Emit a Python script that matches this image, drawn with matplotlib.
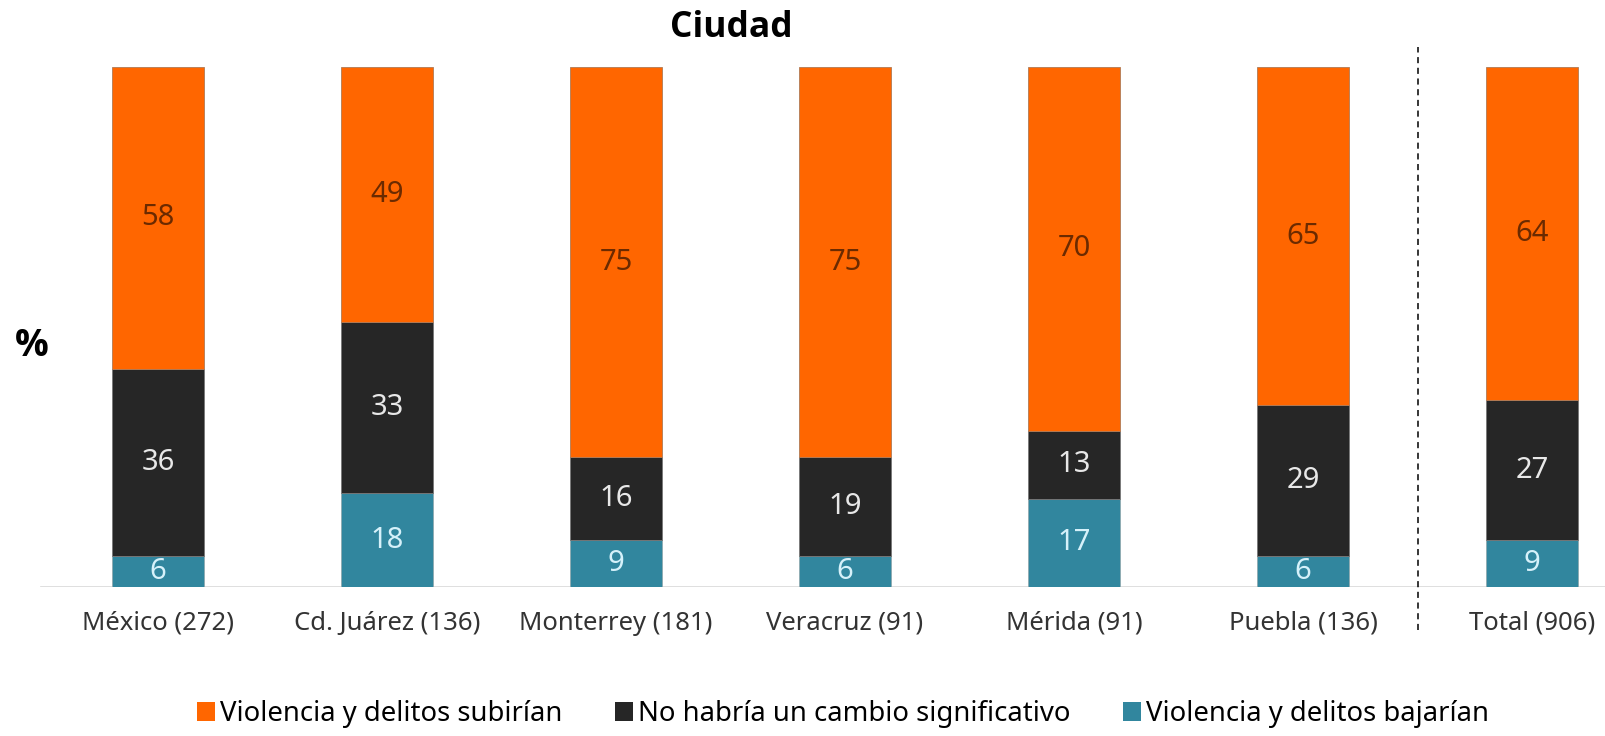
import matplotlib
matplotlib.use("Agg")
import matplotlib.pyplot as plt
from matplotlib.patches import Patch

categories = ["México (272)", "Cd. Juárez (136)", "Monterrey (181)", "Veracruz (91)",
              "Mérida (91)", "Puebla (136)", "Total (906)"]
bajarian = [6, 18, 9, 6, 17, 6, 9]
sin_cambio = [36, 33, 16, 19, 13, 29, 27]
subirian = [58, 49, 75, 75, 70, 65, 64]
series_names = ["Violencia y delitos subirían", "No habría un cambio significativo",
                "Violencia y delitos bajarían"]

c_up = "#FF6600"
c_mid = "#262626"
c_down = "#31869E"

W, H = 1606, 736
fig = plt.figure(figsize=(W / 100, H / 100), dpi=100)
ax = fig.add_axes([0, (H - 587) / H, 1, (587 - 67) / H])
ax.set_xlim((0 - 158) / 229, (W - 158) / 229)
ax.set_ylim(0, 100)

x = list(range(len(categories)))
bw = 0.405
fnt = "Noto Sans"
ax.bar(x, bajarian, bw, color=c_down, edgecolor="#8fa9b0", linewidth=0.6)
ax.bar(x, sin_cambio, bw, bottom=bajarian, color=c_mid, edgecolor="#777777", linewidth=0.6)
bot3 = [a + b for a, b in zip(bajarian, sin_cambio)]
ax.bar(x, subirian, bw, bottom=bot3, color=c_up, edgecolor="#b07a55", linewidth=0.6)

lbl_size = 21
for i in x:
    ax.text(i, bajarian[i] / 2, str(bajarian[i]), ha="center", va="center",
            color="#d6f1fa", fontsize=lbl_size, family=fnt)
    ax.text(i, bajarian[i] + sin_cambio[i] / 2, str(sin_cambio[i]), ha="center", va="center",
            color="#e8e8e8", fontsize=lbl_size, family=fnt)
    ax.text(i, bot3[i] + subirian[i] / 2, str(subirian[i]), ha="center", va="center",
            color="#6b2a00", fontsize=lbl_size, family=fnt)

for s in ax.spines.values():
    s.set_visible(False)
ax.set_yticks([])
ax.set_xticks(x)
ax.set_xticklabels(categories, fontsize=18.5, family=fnt, color="#333333")
ax.tick_params(axis="x", length=0, pad=17)
ax.axhline(0, xmin=41 / W, xmax=1, color="#d9d9d9", lw=1.2, zorder=0)

ax.plot([5.5, 5.5], [-8.3, 103.8], color="black", lw=1.1, ls=(0, (4, 3)), clip_on=False)

fig.text(731 / W, 1 - 28 / H, "Ciudad", ha="center", va="center", fontsize=25.5,
         fontweight="bold", family="Open Sans")
fig.text(32 / W, 1 - 346 / H, "%", ha="center", va="center", fontsize=27,
         fontweight="bold", family="Open Sans")

handles = [Patch(facecolor=c_up), Patch(facecolor=c_mid), Patch(facecolor=c_down)]
fig.legend(handles, series_names, loc="center", bbox_to_anchor=(843 / W, 1 - 714 / H),
           ncol=3, frameon=False, prop={"family": fnt, "size": 19.8},
           handlelength=0.65, handleheight=0.65, handletextpad=0.2, columnspacing=1.9)

fig.savefig("out.png", dpi=100, facecolor="white")
